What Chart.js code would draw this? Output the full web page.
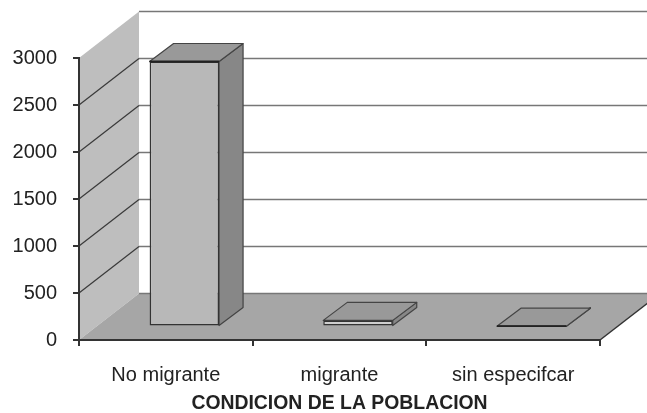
<!DOCTYPE html>
<html>
<head>
<meta charset="utf-8">
<title>Condicion de la poblacion</title>
<script src="https://cdn.jsdelivr.net/npm/chart.js@4"></script>
<style>
  html, body { margin: 0; padding: 0; background: #fff; }
  canvas { display: block; }
</style>
</head>
<body>
<canvas id="poblacionChart" width="647" height="413"></canvas>
<script>
// Values
const categories = ['No migrante', 'migrante', 'sin especifcar'];
const poblacion = [2819, 65, 3];
const yTicks = [0, 500, 1000, 1500, 2000, 2500, 3000];

// 3D look: how far the back wall and the bars sit behind the axes
const wallDepth = { x: 60, y: -46.5 };
const barShift = { x: 18.5, y: -13.5 };
const barDepth = { x: 24, y: -18 };

function poly(ctx, pts, fill, stroke, lw) {
  ctx.beginPath();
  pts.forEach((p, i) => i ? ctx.lineTo(p[0], p[1]) : ctx.moveTo(p[0], p[1]));
  ctx.closePath();
  if (fill) { ctx.fillStyle = fill; ctx.fill(); }
  if (stroke) { ctx.strokeStyle = stroke; ctx.lineWidth = lw || 1; ctx.stroke(); }
}

function line(ctx, x1, y1, x2, y2, color, lw) {
  ctx.beginPath();
  ctx.moveTo(x1, y1);
  ctx.lineTo(x2, y2);
  ctx.strokeStyle = color;
  ctx.lineWidth = lw;
  ctx.stroke();
}

// side wall, floor and grid lines
const walls = {
  id: 'walls',
  beforeDraw(chart) {
    const { ctx, chartArea: a, scales: { y } } = chart;
    const dx = wallDepth.x, dy = wallDepth.y;
    const y0 = y.getPixelForValue(0), yTop = y.getPixelForValue(3000);
    ctx.save();
    poly(ctx, [[a.left, y0], [a.left, yTop], [a.left + dx, yTop + dy], [a.left + dx, y0 + dy]], '#bebebe');
    poly(ctx, [[a.left, y0], [a.right, y0], [a.right + dx, y0 + dy], [a.left + dx, y0 + dy]], '#a6a6a6');
    yTicks.forEach(v => {
      const py = y.getPixelForValue(v);
      line(ctx, a.left + dx, py + dy, a.right + dx, py + dy, '#777', 1.4);
      if (v > 0 && v < 3000) line(ctx, a.left, py, a.left + dx, py + dy, '#3a3a3a', 1.2);
    });
    line(ctx, a.right, y0, a.right + dx, y0 + dy, '#333', 1.5);
    ctx.restore();
  }
};

// top and side faces, the front face is the normal bar moved back a little
const bars3d = {
  id: 'bars3d',
  beforeDatasetDraw(chart, args) {
    const { ctx } = chart;
    const dx = barDepth.x, dy = barDepth.y;
    ctx.save();
    ctx.lineJoin = 'round';
    ctx.translate(barShift.x, barShift.y);
    args.meta.data.forEach(bar => {
      const p = bar.getProps(['x', 'y', 'base', 'width'], true);
      const l = p.x - p.width / 2, r = p.x + p.width / 2;
      poly(ctx, [[r, p.y], [r + dx, p.y + dy], [r + dx, p.base + dy], [r, p.base]], '#878787', '#444', 1.2);
      poly(ctx, [[l, p.y], [l + dx, p.y + dy], [r + dx, p.y + dy], [r, p.y]], '#999', '#444', 1.2);
    });
  },
  afterDatasetDraw(chart, args) {
    const { ctx } = chart;
    args.meta.data.forEach((bar, i) => {
      const p = bar.getProps(['x', 'y', 'width'], true);
      if (i !== 1) line(ctx, p.x - p.width / 2, p.y, p.x + p.width / 2, p.y, '#222', 1.8);
    });
    ctx.restore();
  }
};

const ctx = document.getElementById('poblacionChart').getContext('2d');

new Chart(ctx, {
  type: 'bar',
  data: {
    labels: categories,
    datasets: [{
      label: 'Poblacion',
      data: poblacion,
      backgroundColor: ['#b8b8b8', '#cfcfcf', '#b8b8b8'],
      borderColor: '#333',
      borderWidth: 1.5,
      borderSkipped: false,
      barPercentage: 0.4,
      categoryPercentage: 1,
      clip: false
    }]
  },
  options: {
    responsive: false,
    animation: false,
    layout: { padding: { top: 58, right: 47, left: 0, bottom: 0 } },
    plugins: {
      legend: { display: false },
      tooltip: { enabled: false }
    },
    scales: {
      x: {
        afterFit(scale) { scale.height = 73; },
        border: { color: '#333', width: 2 },
        grid: { drawOnChartArea: false, color: '#333', lineWidth: 2, tickLength: 6 },
        ticks: {
          color: '#222',
          padding: 17,
          maxRotation: 0,
          font: { family: '"Liberation Sans", Arial, sans-serif', size: 20 }
        },
        title: {
          display: true,
          text: 'CONDICION DE LA POBLACION',
          color: '#222',
          padding: { top: 5, bottom: -2 },
          font: { family: '"Liberation Sans", Arial, sans-serif', size: 19.4, weight: 'bold' }
        }
      },
      y: {
        min: 0,
        max: 3000,
        afterFit(scale) { scale.width = 79; },
        afterBuildTicks(scale) { scale.ticks = yTicks.map(v => ({ value: v })); },
        border: { color: '#333', width: 2 },
        grid: { drawOnChartArea: false, color: '#333', lineWidth: 2, tickLength: 6 },
        ticks: {
          color: '#222',
          padding: 16,
          callback: v => String(v),
          font: { family: '"Liberation Sans", Arial, sans-serif', size: 20 }
        }
      }
    }
  },
  plugins: [walls, bars3d]
});
</script>
</body>
</html>
